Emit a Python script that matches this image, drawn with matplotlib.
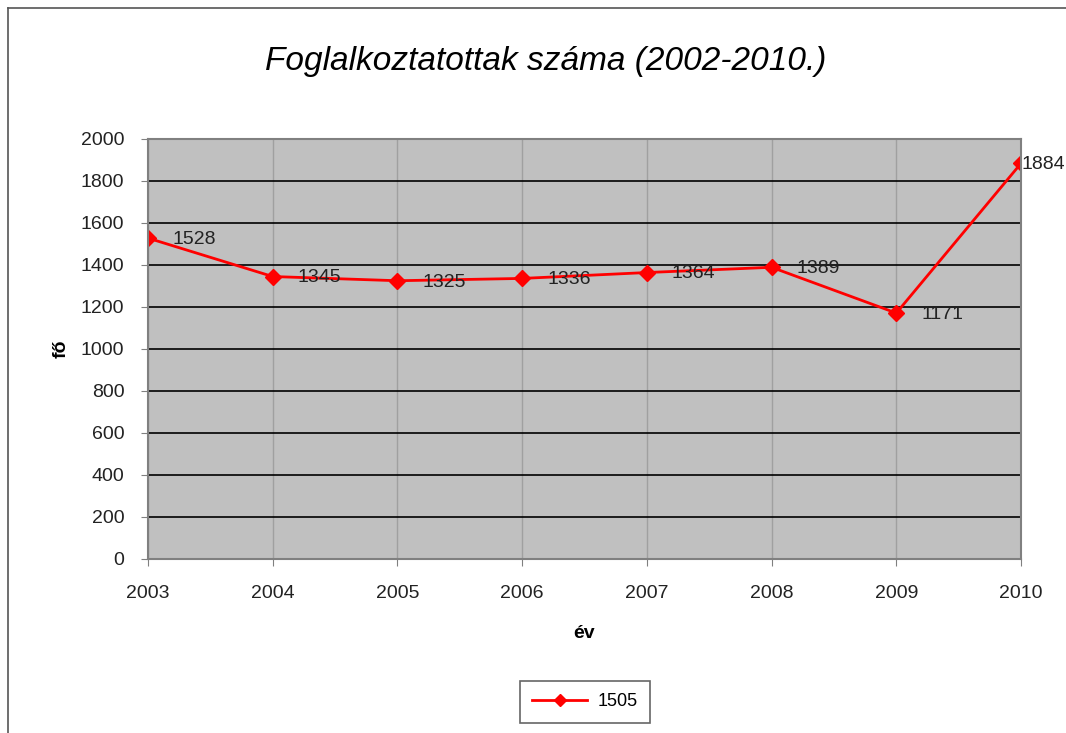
import matplotlib.pyplot as plt
from matplotlib.lines import Line2D

years = [2003, 2004, 2005, 2006, 2007, 2008, 2009, 2010]
values = [1528, 1345, 1325, 1336, 1364, 1389, 1171, 1884]
series_name = "1505"

plt.rcParams['font.family'] = ['Liberation Sans', 'DejaVu Sans']

fig = plt.figure(figsize=(10.66, 7.33), dpi=100)
ax = fig.add_axes([0.1388, 0.2374, 0.819, 0.573])

ax.set_facecolor('#C0C0C0')
ax.plot(years, values, color='#FF0000', lw=2, marker='D', ms=8, label=series_name)

for i, (x, y) in enumerate(zip(years, values)):
    dx = 0 if i == len(years) - 1 else 18  # last label sits right on the edge
    ax.annotate(str(y), (x, y), xytext=(dx, -1), textcoords='offset points',
                fontsize=14, color='#222222', va='center', ha='left', clip_on=False)

ax.set_xlim(2003, 2010)
ax.set_ylim(0, 2000)
ax.set_xticks(years)
ax.set_yticks(range(0, 2001, 200))
ax.tick_params(axis='both', labelsize=14, colors='#222222', length=5, color='#808080')
ax.tick_params(axis='x', pad=14)
ax.tick_params(axis='y', pad=12)

ax.yaxis.grid(True, color='black', lw=1.2)
ax.xaxis.grid(True, color='#A0A0A0', lw=1)
ax.set_axisbelow(True)
for s in ax.spines.values():
    s.set_color('#808080')
    s.set_linewidth(1.5)

ax.set_title("Foglalkoztatottak száma (2002-2010.)", fontsize=24, style='italic',
             color='black', pad=50, x=0.455)
ax.set_xlabel("év", fontsize=14, fontweight='bold', labelpad=16)
ax.set_ylabel("fő", fontsize=14, fontweight='bold', labelpad=8)

leg = ax.legend(loc='upper center', bbox_to_anchor=(0.5006, -0.268), fontsize=13,
                frameon=True, fancybox=False, edgecolor='#404040', handlelength=3,
                borderpad=0.7, handletextpad=0.6)
leg.get_frame().set_linewidth(1.2)
leg.legend_handles[0].set_markersize(6)

# outer chart border
fig.add_artist(Line2D([8 / 1066, 1], [1 - 8 / 733, 1 - 8 / 733], color='#555555', lw=1.2,
                      transform=fig.transFigure))
fig.add_artist(Line2D([8 / 1066, 8 / 1066], [0, 1 - 8 / 733], color='#555555', lw=1.2,
                      transform=fig.transFigure))

fig.savefig('out.png', dpi=100)
